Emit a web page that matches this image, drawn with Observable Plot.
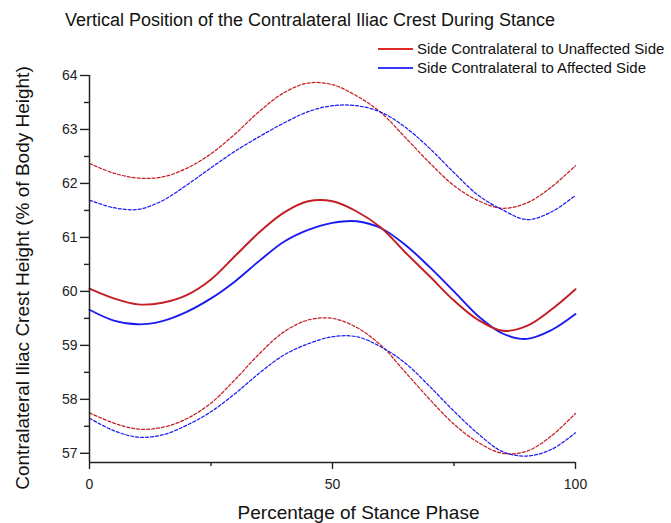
<!DOCTYPE html>
<html>
<head>
<meta charset="utf-8">
<script src="https://cdn.jsdelivr.net/npm/d3@7"></script>
<script src="https://cdn.jsdelivr.net/npm/@observablehq/plot@0.6"></script>
<style>
  html, body { margin: 0; padding: 0; background: #fff; }
  #wrap { position: relative; width: 671px; height: 523px; font-family: "Liberation Sans", Arial, sans-serif; color: #111; }
  #title { position: absolute; left: 0; width: 620px; top: 10px; text-align: center; font-size: 18px; white-space: nowrap; }
  #legend { position: absolute; left: 378px; top: 39px; font-size: 15px; line-height: 19px; white-space: nowrap; }
  #legend .row { display: flex; align-items: center; }
  #legend .sw { display: inline-block; width: 35px; height: 0; border-top: 2px solid; margin-right: 4px; }
</style>
</head>
<body>
<div id="wrap">
  <div id="chart"></div>
  <div id="title">Vertical Position of the Contralateral Iliac Crest During Stance</div>
  <div id="legend"></div>
</div>
<script>
// Percentage of stance phase
const stance = [0, 5, 10, 15, 20, 25, 30, 35, 40, 45, 50, 55, 60, 65, 70, 75, 80, 85, 90, 95, 100];

// Side contralateral to unaffected side (red): mean, upper and lower bands
const unaffectedMean  = [60.05, 59.87, 59.76, 59.79, 59.93, 60.22, 60.66, 61.10, 61.46, 61.67, 61.67, 61.48, 61.18, 60.72, 60.28, 59.83, 59.47, 59.27, 59.36, 59.66, 60.04];
const unaffectedUpper = [62.37, 62.19, 62.10, 62.12, 62.28, 62.55, 62.92, 63.34, 63.68, 63.86, 63.83, 63.62, 63.31, 62.85, 62.38, 61.96, 61.68, 61.54, 61.64, 61.93, 62.33];
const unaffectedLower = [57.75, 57.56, 57.45, 57.48, 57.64, 57.93, 58.37, 58.85, 59.25, 59.47, 59.50, 59.33, 59.00, 58.50, 58.00, 57.54, 57.20, 57.00, 57.04, 57.32, 57.74];

// Side contralateral to affected side (blue): mean, upper and lower bands
const affectedMean  = [59.66, 59.46, 59.39, 59.45, 59.62, 59.87, 60.19, 60.57, 60.92, 61.14, 61.27, 61.30, 61.17, 60.86, 60.45, 60.00, 59.54, 59.22, 59.12, 59.28, 59.58];
const affectedUpper = [61.69, 61.55, 61.52, 61.68, 61.97, 62.29, 62.60, 62.87, 63.12, 63.33, 63.44, 63.44, 63.32, 63.04, 62.65, 62.20, 61.78, 61.51, 61.33, 61.47, 61.78];
const affectedLower = [57.65, 57.42, 57.30, 57.34, 57.52, 57.77, 58.11, 58.49, 58.82, 59.03, 59.16, 59.16, 58.97, 58.67, 58.24, 57.78, 57.36, 57.03, 56.95, 57.07, 57.38];

const seriesNames = ["Side Contralateral to Unaffected Side", "Side Contralateral to Affected Side"];
const yMajorTicks = [57, 58, 59, 60, 61, 62, 63, 64];
const yMinorTicks = [57.5, 58.5, 59.5, 60.5, 61.5, 62.5, 63.5];
const xMajorTicks = [0, 50, 100];
const xMinorTicks = [25, 75];
const xTitle = "Percentage of Stance Phase";
const yTitle = "Contralateral Iliac Crest Height (% of Body Height)";

const RED = "#c41e24";
const BLUE = "#1c1cf2";
const yDomain = [56.83, 64];

const toRows = (vals) => stance.map((x, i) => ({x, y: vals[i]}));

const solid = {x: "x", y: "y", curve: "catmull-rom", strokeWidth: 1.9};
const dashed = {x: "x", y: "y", curve: "catmull-rom", strokeWidth: 1.25, strokeDasharray: "3,2"};

const chart = Plot.plot({
  width: 671,
  height: 523,
  marginLeft: 89,
  marginRight: 96,
  marginTop: 75,
  marginBottom: 61,
  style: {fontFamily: '"Liberation Sans", Arial, sans-serif', fontSize: "14px", color: "#222", background: "transparent", overflow: "visible"},
  x: {domain: [0, 100]},
  y: {domain: yDomain},
  marks: [
    Plot.line(toRows(unaffectedUpper), {...dashed, stroke: RED}),
    Plot.line(toRows(affectedUpper), {...dashed, stroke: BLUE}),
    Plot.line(toRows(unaffectedLower), {...dashed, stroke: RED}),
    Plot.line(toRows(affectedLower), {...dashed, stroke: BLUE}),
    Plot.line(toRows(affectedMean), {...solid, stroke: BLUE}),
    Plot.line(toRows(unaffectedMean), {...solid, stroke: RED}),
    Plot.axisY({ticks: yMajorTicks, tickSize: 9, tickPadding: 3, tickFormat: d3.format("d"), label: null, strokeWidth: 1.4}),
    Plot.axisY({ticks: yMinorTicks, tickSize: 5, tickFormat: () => "", label: null, strokeWidth: 1.4}),
    Plot.axisX({ticks: xMajorTicks, tickSize: 7, tickPadding: 10, tickFormat: d3.format("d"), label: null, strokeWidth: 1.4}),
    Plot.axisX({ticks: xMinorTicks, tickSize: 4, tickFormat: () => "", label: null, strokeWidth: 1.4}),
    Plot.ruleX([0], {stroke: "#222", strokeWidth: 1.5}),
    Plot.ruleY([yDomain[0]], {stroke: "#222", strokeWidth: 1.5}),
    Plot.text([xTitle], {frameAnchor: "bottom", dx: 26, dy: 56, fontSize: 19, fill: "#111"}),
    Plot.text([yTitle], {frameAnchor: "left", textAnchor: "middle", dx: -67, dy: 9, rotate: -90, fontSize: 19, fill: "#111"})
  ]
});
document.getElementById("chart").appendChild(chart);

const legend = document.getElementById("legend");
[[seriesNames[0], "#e02a2a"], [seriesNames[1], "#3838ff"]].forEach(([name, color]) => {
  const row = document.createElement("div");
  row.className = "row";
  const sw = document.createElement("span");
  sw.className = "sw";
  sw.style.borderTopColor = color;
  const t = document.createElement("span");
  t.textContent = name;
  row.appendChild(sw);
  row.appendChild(t);
  legend.appendChild(row);
});
</script>
</body>
</html>
